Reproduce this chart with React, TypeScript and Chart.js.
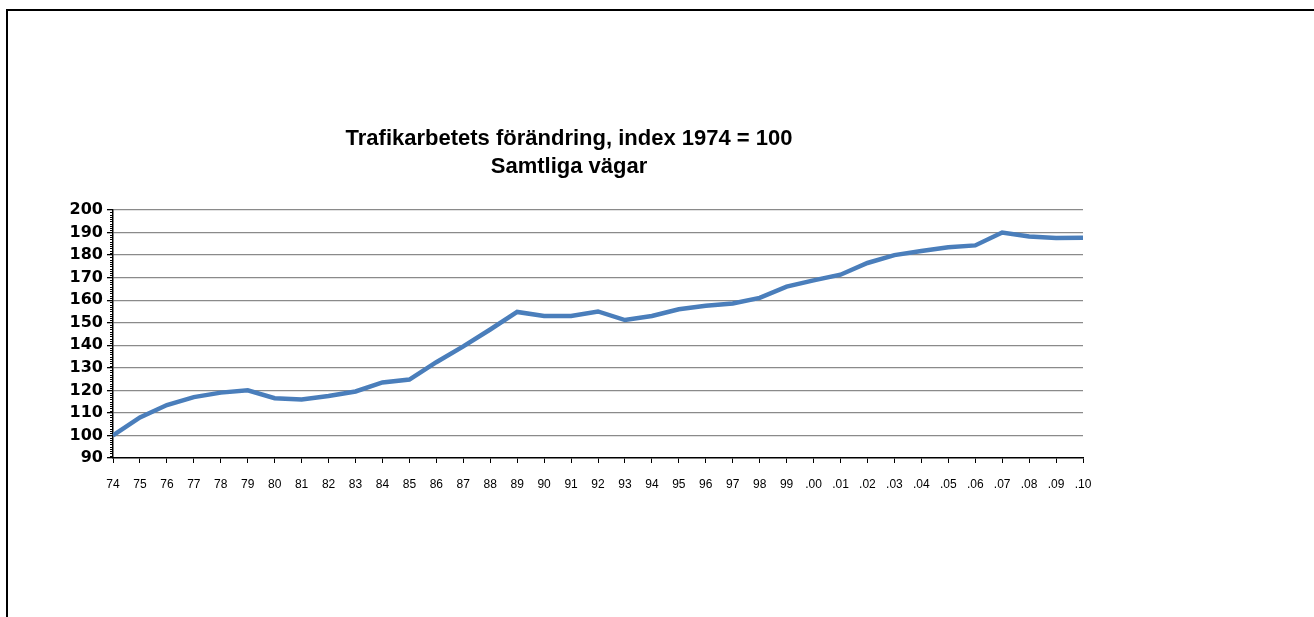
import React, { useEffect, useRef } from "react";
import { Chart, registerables } from "chart.js";

Chart.register(...registerables);

const categories = [
  "74", "75", "76", "77", "78", "79", "80", "81", "82", "83", "84", "85", "86",
  "87", "88", "89", "90", "91", "92", "93", "94", "95", "96", "97", "98", "99",
  ".00", ".01", ".02", ".03", ".04", ".05", ".06", ".07", ".08", ".09", ".10",
];

const indexValues = [
  100, 108, 113.5, 117, 119, 120, 116.5, 116, 117.5, 119.5, 123.5, 124.8, 132.5,
  139.5, 147, 154.8, 153, 153, 155, 151.2, 153, 156, 157.5, 158.5, 161, 166,
  168.8, 171.3, 176.5, 180, 181.8, 183.5, 184.3, 190, 188.3, 187.6, 187.7,
];

const titleLines = ["Trafikarbetets förändring, index 1974 = 100", "Samtliga vägar"];
const yMin = 90;
const yMax = 200;
const yStep = 10;

const minorTicks = {
  id: "minorTicks",
  afterDraw(chart: any) {
    const y = chart.scales.y;
    const ctx = chart.ctx;
    const left = chart.chartArea.left;
    ctx.save();
    ctx.strokeStyle = "#000";
    ctx.lineWidth = 1;
    ctx.beginPath();
    for (let v = yMin; v <= yMax; v += 1) {
      if (v % yStep === 0) continue;
      const py = Math.round(y.getPixelForValue(v)) + 0.5;
      ctx.moveTo(left - 3, py);
      ctx.lineTo(left, py);
    }
    ctx.stroke();
    ctx.restore();
  },
};

export default function App() {
  const ref = useRef<HTMLCanvasElement | null>(null);

  useEffect(() => {
    if (!ref.current) return;
    const chart = new Chart(ref.current, {
      type: "line",
      data: {
        labels: categories,
        datasets: [
          {
            data: indexValues,
            borderColor: "#4a7ebb",
            borderWidth: 4.5,
            pointRadius: 0,
            tension: 0,
            fill: false,
          },
        ],
      },
      options: {
        animation: false,
        responsive: false,
        devicePixelRatio: 1,
        layout: { padding: { left: 55, right: 231, top: 125, bottom: 119 } },
        plugins: {
          legend: { display: false },
          tooltip: { enabled: false },
          title: {
            display: true,
            text: titleLines,
            color: "#000",
            font: { family: "Arial, 'Liberation Sans', sans-serif", size: 22, weight: "bold", lineHeight: 1.273 },
            padding: { top: 0, bottom: 29 },
          },
        },
        scales: {
          x: {
            type: "category",
            offset: false,
            afterFit: (s: any) => { s.height = 40; },
            grid: {
              drawOnChartArea: false,
              drawTicks: true,
              tickLength: 5,
              tickColor: "#000",
            },
            border: { color: "#000", width: 1.5 },
            ticks: {
              color: "#000",
              autoSkip: false,
              maxRotation: 0,
              padding: 14,
              font: { family: "Arial, 'Liberation Sans', sans-serif", size: 12 },
            },
          },
          y: {
            min: yMin,
            max: yMax,
            afterFit: (s: any) => { s.width = 58; },
            grid: {
              color: (c: any) => (c.tick && c.tick.value === yMin ? "rgba(0,0,0,0)" : "#8a8a8a"),
              lineWidth: 1.3,
              tickLength: 6,
              tickColor: "#000",
            },
            border: { color: "#000", width: 1.5 },
            ticks: {
              stepSize: yStep,
              color: "#000",
              padding: 4,
              font: { family: "'DejaVu Sans', Arial, sans-serif", size: 16, weight: "bold" },
            },
          },
        },
      },
      plugins: [minorTicks],
    });
    return () => chart.destroy();
  }, []);

  return (
    <div style={{ position: "fixed", left: 0, top: 0, width: 1314, height: 617, overflow: "hidden", background: "#fff" }}>
      <div style={{ position: "absolute", left: 6, top: 9, width: 1400, height: 700, border: "2px solid #000" }} />
      <canvas ref={ref} width={1314} height={617} style={{ position: "absolute", left: 0, top: 0 }} />
    </div>
  );
}
